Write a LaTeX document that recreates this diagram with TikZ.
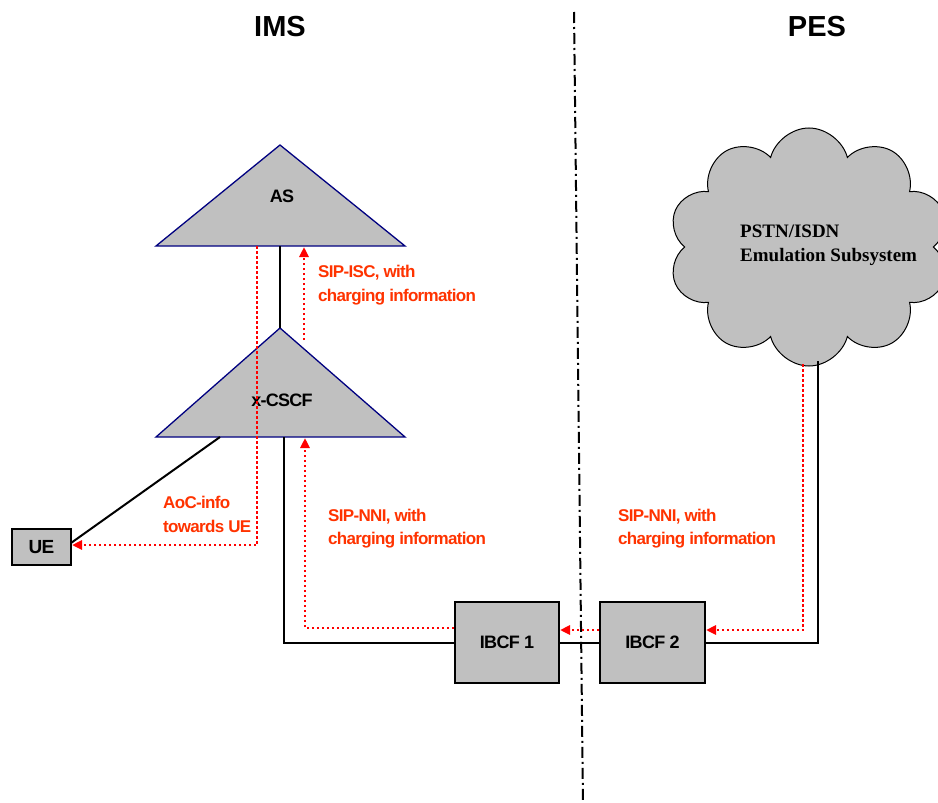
\documentclass[tikz,border=0pt]{standalone}
\usepackage{fontspec}
\setmainfont{Liberation Sans}
\newfontfamily\serifbf{Liberation Serif}
\newfontfamily\tightsans[LetterSpace=-4]{Liberation Sans}
\usetikzlibrary{shapes.symbols,arrows.meta}
\definecolor{boxgray}{RGB}{192,192,192}
\definecolor{navyline}{RGB}{0,0,128}
\definecolor{lblred}{RGB}{255,51,0}
\begin{document}
\begin{tikzpicture}[x=1pt,y=-1pt,
  tri/.style={draw=navyline,line width=1.3pt,fill=boxgray,line join=miter},
  boxnode/.style={draw=black,line width=2pt,fill=boxgray,inner sep=0pt},
  lbl/.style={font=\tightsans\bfseries\fontsize{18}{20}\selectfont,inner sep=0pt},
  title/.style={font=\bfseries\fontsize{29}{32}\selectfont,inner sep=0pt},
  redlbl/.style={text=lblred,font=\tightsans\bfseries\fontsize{17}{23.5}\selectfont,align=left,anchor=west,inner sep=0pt},
  blk/.style={draw=black,line width=2pt},
  reddot/.style={draw=red,line width=2.5pt,dash pattern=on 2.5pt off 2.5pt},
  redarr/.style={reddot,-{Triangle[length=10pt,width=9pt,fill=red]}},
  sep/.style={draw=black,line width=2pt,dash pattern=on 11pt off 4pt on 2pt off 4pt}
]
\useasboundingbox (0,0) rectangle (938,803);

% titles
\node[title] (ims) at (280,27) {IMS};
\node[title] (pes) at (817,27) {PES};

% separator
\coordinate (septop) at (574,12);
\coordinate (sepbot) at (583,803);
\draw[sep] (septop) -- (sepbot);

% AS triangle
\path[tri] (156,246) -- (280,145) -- (405,246) -- cycle;
\node[lbl] (as) at (282,196) {AS};
\coordinate (asB1) at (257,246);
\coordinate (asB2) at (280,246);
\coordinate (asB3) at (304,247);

% x-CSCF triangle
\coordinate (cscfT) at (280,328);
\path[tri] (156,437) -- (cscfT) -- (405,437) -- cycle;
\node[lbl] (cscf) at (282,400) {x-CSCF};
\coordinate (cscfB1) at (220,437);
\coordinate (cscfB2) at (284,437);
\coordinate (cscfB3) at (305,438);
\coordinate (cscfUp) at (304,340);

% UE
\node[boxnode,minimum width=59pt,minimum height=36pt,font=\tightsans\bfseries\fontsize{19}{20}\selectfont] (ue) at (41.5,547) {UE};
\coordinate (ueR) at (71,543);

% IBCFs
\node[boxnode,minimum width=104pt,minimum height=81pt,font=\tightsans\bfseries\fontsize{18}{20}\selectfont] (ibcf1) at (507,642.5) {IBCF 1};
\node[boxnode,minimum width=105pt,minimum height=81pt,font=\tightsans\bfseries\fontsize{18}{20}\selectfont] (ibcf2) at (652.5,642.5) {IBCF 2};

% cloud
\node[cloud,cloud puffs=10,draw=black,line width=1pt,fill=boxgray,minimum width=281pt,minimum height=238pt,inner sep=0pt] (cloud) at (809,247) {};
\node[font=\serifbf\bfseries\fontsize{19}{24}\selectfont,align=left,anchor=west,inner sep=0pt] (cloudtxt) at (740,245) {PSTN/ISDN\\Emulation Subsystem};
\coordinate (cb1) at (803,364);
\coordinate (cb2) at (818,361);

% black connectors
\draw[blk] (asB2) -- (cscfT);
\draw[blk] (ueR) -- (cscfB1);
\draw[blk] (cscfB2) |- (ibcf1.west);
\draw[blk] (ibcf1) -- (ibcf2);
\draw[blk] (cb2) |- (ibcf2.east);

% red dotted connectors
\coordinate (aocCorner) at (257,545);
\draw[redarr] (asB1) -- (aocCorner) -- (ue.east |- aocCorner);
\draw[redarr] (cscfUp) -- (asB3);
\coordinate (nniA) at (305,628);
\draw[redarr] (ibcf1.west |- nniA) -- (nniA) -- (cscfB3);
\coordinate (nniB) at (600,630);
\draw[redarr] (ibcf2.west |- nniB) -- (ibcf1.east |- nniB);
\draw[redarr] (cb1) |- (ibcf2.east |- nniB);

% red labels
\node[redlbl] (lisc) at (318,285) {SIP-ISC, with\\charging information};
\node[redlbl] (laoc) at (163,514.5) {AoC-info\\towards UE};
\node[redlbl] (lnni1) at (328,528.5) {SIP-NNI, with\\charging information};
\node[redlbl] (lnni2) at (618,528.5) {SIP-NNI, with\\charging information};
\end{tikzpicture}
\end{document}
